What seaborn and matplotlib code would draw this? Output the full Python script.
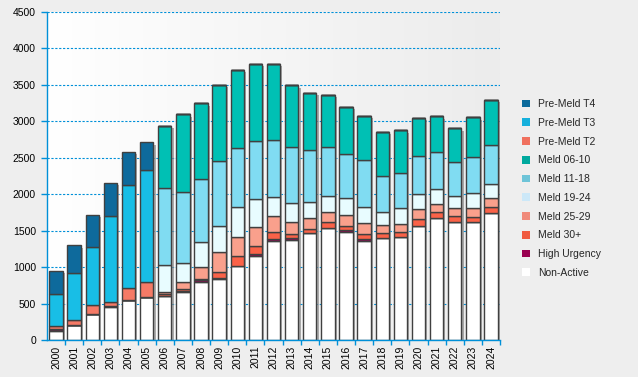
import numpy as np
import pandas as pd
import matplotlib
matplotlib.use("Agg")
import matplotlib.pyplot as plt
import matplotlib.transforms as mtransforms
from matplotlib.patches import Patch
from matplotlib.colors import LinearSegmentedColormap
import seaborn as sns

years = list(range(2000, 2025))

non_active  = [128, 201, 352, 448, 545, 586, 608, 663, 800, 837, 1015, 1157, 1365, 1376, 1464, 1532, 1486, 1363, 1395, 1409, 1560, 1670, 1615, 1615, 1738]
high_urg    = [20, 0, 0, 18, 0, 0, 0, 9, 25, 10, 0, 23, 23, 19, 0, 0, 19, 19, 0, 0, 0, 0, 0, 0, 0]
meld_30     = [0, 0, 0, 0, 0, 0, 22, 32, 12, 82, 133, 106, 90, 55, 59, 83, 55, 68, 69, 69, 96, 82, 82, 68, 83]
meld_25_29  = [0, 0, 0, 0, 0, 0, 24, 88, 160, 274, 261, 260, 219, 165, 147, 137, 151, 151, 110, 109, 137, 110, 110, 124, 123]
meld_19_24  = [0, 0, 0, 0, 0, 0, 371, 260, 343, 365, 412, 393, 261, 261, 219, 224, 233, 220, 178, 220, 206, 206, 165, 206, 192]
meld_11_18  = [0, 0, 0, 0, 0, 0, 1065, 973, 873, 884, 809, 787, 782, 768, 714, 668, 604, 644, 502, 480, 521, 507, 466, 494, 535]
meld_06_10  = [0, 0, 0, 0, 0, 0, 842, 1071, 1034, 1046, 1074, 1061, 1047, 850, 782, 722, 653, 612, 596, 589, 525, 494, 466, 548, 618]
pre_t2      = [44, 73, 124, 51, 164, 214, 0, 0, 0, 0, 0, 0, 0, 0, 0, 0, 0, 0, 0, 0, 0, 0, 0, 0, 0]
pre_t3      = [435, 641, 804, 1180, 1413, 1528, 0, 0, 0, 0, 0, 0, 0, 0, 0, 0, 0, 0, 0, 0, 0, 0, 0, 0, 0]
pre_t4      = [320, 384, 435, 461, 457, 384, 0, 0, 0, 0, 0, 0, 0, 0, 0, 0, 0, 0, 0, 0, 0, 0, 0, 0, 0]

categories = ["Pre-Meld T4", "Pre-Meld T3", "Pre-Meld T2", "Meld 06-10", "Meld 11-18",
              "Meld 19-24", "Meld 25-29", "Meld 30+", "High Urgency", "Non-Active"]
series = [pre_t4, pre_t3, pre_t2, meld_06_10, meld_11_18, meld_19_24, meld_25_29, meld_30, high_urg, non_active]

bar_colors = ["#0e6a9c", "#18bee6", "#f57a66", "#00c0b4", "#80dcf2",
              "#e8fcff", "#f9a08c", "#fa6248", "#990055", "#ffffff"]
legend_colors = ["#0b6a9b", "#16b0dc", "#f0705e", "#00a99e", "#6ec4d8",
                 "#cce8f8", "#f08a7a", "#f05a40", "#990050", "#ffffff"]

rows = []
for cat, vals in zip(categories, series):
    for y, v in zip(years, vals):
        rows.append({"year": y, "category": cat, "value": v})
df = pd.DataFrame(rows)
totals = [sum(s[i] for s in series) for i in range(len(years))]

sns.set_theme(style="white")
plt.rcParams["font.family"] = ["Liberation Sans", "DejaVu Sans"]
plt.rcParams["font.size"] = 7.5

fig = plt.figure(figsize=(6.38, 3.77), dpi=100, facecolor="#eeeeee")
ax = fig.add_axes([47 / 638, 37 / 377, 453 / 638, 328 / 377])
ax.set_facecolor("#eeeeee")

# background gradient
cmap = LinearSegmentedColormap.from_list("bg", ["#ffffff", "#ececec"])
grad = np.linspace(0, 1, 256).reshape(1, -1)
ax.imshow(grad, extent=[1999.5, 2024.5, 0, 4500], aspect="auto", cmap=cmap, zorder=0)

width = 0.74
# shadow
shadow_tr = ax.transData + mtransforms.ScaledTranslation(2.2 / 100, -2.2 / 100, fig.dpi_scale_trans)
ax.bar(years, totals, width=width, color="#8a8a8a", alpha=0.7, transform=shadow_tr, zorder=0.8, linewidth=0)

sns.histplot(data=df, x="year", weights="value", hue="category", hue_order=categories,
             multiple="stack", discrete=True, shrink=width,
             palette=dict(zip(categories, bar_colors)), edgecolor="#404040",
             linewidth=1.0, alpha=1, legend=False, ax=ax, zorder=1)

ax.set_xlim(1999.5, 2024.5)
ax.set_ylim(0, 4500)
ax.set_yticks(range(0, 4501, 500))
ax.set_xticks(years)
ax.set_xticklabels([str(y) for y in years], rotation=90)
ax.set_xticks([y + 0.5 for y in years], minor=True)
ax.set_xlabel("")
ax.set_ylabel("")

ax.yaxis.grid(True, color="#0090d8", linestyle=(0, (2, 1.5)), linewidth=0.8)
ax.xaxis.grid(False)
ax.set_axisbelow(True)

for s in ["top", "right"]:
    ax.spines[s].set_visible(False)
for s in ["left", "bottom"]:
    ax.spines[s].set_color("#0090d8")
    ax.spines[s].set_linewidth(1.0)

ax.tick_params(axis="y", which="major", length=4, color="#0090d8", width=1.0, pad=4,
               labelsize=7.5, labelcolor="black", left=True)
ax.tick_params(axis="x", which="major", length=0, pad=4, labelsize=7.5, labelcolor="black")
ax.tick_params(axis="x", which="minor", length=3.5, color="#0090d8", width=1.0, bottom=True)

handles = [Patch(facecolor=c, edgecolor="none") for c in legend_colors]
fig.legend(handles, categories, loc="center left", bbox_to_anchor=(522 / 638, 1 - 188.5 / 377),
           frameon=False, fontsize=7.5, handlelength=0.8, handleheight=0.8,
           handletextpad=0.75, labelspacing=0.84, borderpad=0, borderaxespad=0)

fig.savefig("out.png", dpi=100, facecolor=fig.get_facecolor())
